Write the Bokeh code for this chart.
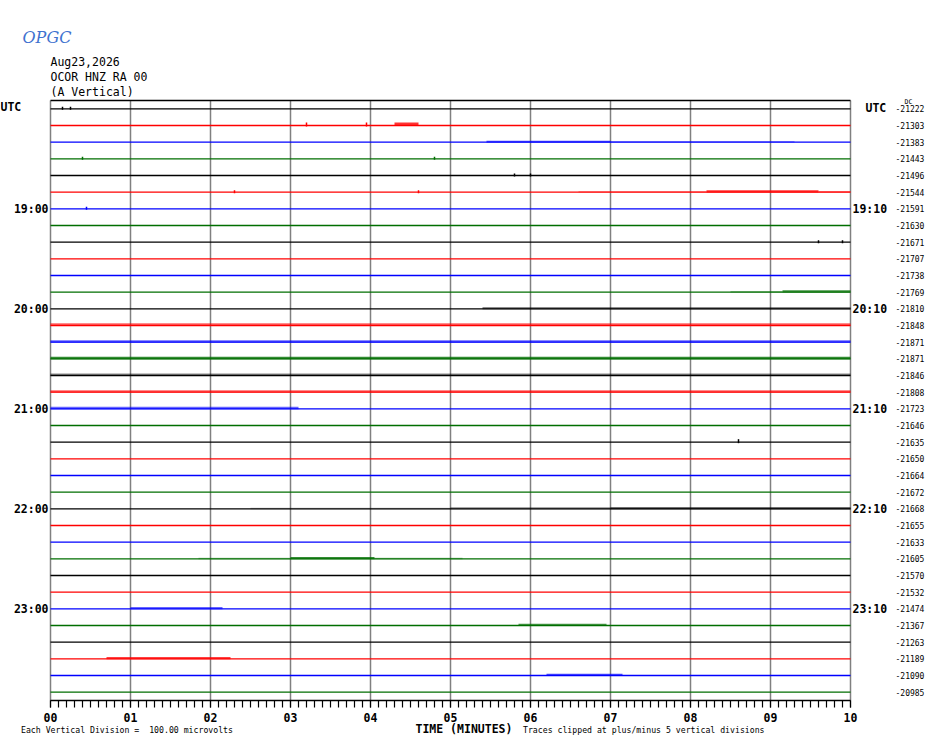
import numpy as np
from bokeh.plotting import figure
from bokeh.models import ColumnDataSource, FixedTicker, LinearAxis, Label, Range1d
from bokeh.embed import file_html
from bokeh.resources import INLINE

# header texts
LOGO_TEXT = "OPGC"
DATE_TEXT = "Aug23,2026"
STATION_TEXT = "OCOR HNZ RA 00"
COMPONENT_TEXT = "(A Vertical)"

# x axis: minutes within each 10 minute row
MINUTE_LABELS = ["00", "01", "02", "03", "04", "05", "06", "07", "08", "09", "10"]
X_TITLE = "TIME (MINUTES)"
SCALE_NOTE = "Each Vertical Division =\u00a0 100.00 microvolts"
CLIP_NOTE = "Traces clipped at plus/minus 5 vertical divisions"

# 36 rows of 10 minutes, 18:00 .. 23:50 UTC
N_ROWS = 36
LABELED_ROWS = [6, 12, 18, 24, 30]
LEFT_TIME_LABELS = ["19:00", "20:00", "21:00", "22:00", "23:00"]
RIGHT_TIME_LABELS = ["19:10", "20:10", "21:10", "22:10", "23:10"]

# DC offset printed at the right of each row
DC_OFFSETS = [-21222, -21303, -21383, -21443, -21496, -21544, -21591, -21630, -21671,
              -21707, -21738, -21769, -21810, -21848, -21871, -21871, -21846, -21808,
              -21723, -21646, -21635, -21650, -21664, -21672, -21668, -21655, -21633,
              -21605, -21570, -21532, -21474, -21367, -21263, -21189, -21090, -20985]

# noisy stretches of trace: row, start minute, end minute, amplitude (px), density
BURST_ROW = [1, 2, 2, 5, 5, 5, 11, 11, 12, 13, 14, 15, 16, 17, 18,
             24, 24, 24, 27, 27, 27, 30, 31, 33, 34]
BURST_START = [4.30, 5.45, 7.00, 6.60, 8.20, 9.60, 8.50, 9.15, 5.40, 0.00, 0.00, 0.00, 0.00, 0.00, 0.00,
               2.50, 5.00, 7.00, 1.85, 3.00, 4.05, 1.00, 5.85, 0.70, 6.20]
BURST_END = [4.60, 7.00, 9.30, 8.20, 9.60, 10.00, 9.15, 10.00, 10.00, 10.00, 10.00, 10.00, 10.00, 10.00, 3.10,
             5.00, 7.00, 10.00, 3.00, 4.05, 5.15, 2.15, 6.95, 2.25, 7.15]
BURST_AMP = [3.0, 1.5, 1.2, 1.2, 1.8, 1.2, 1.2, 1.8, 1.5, 2.2, 2.0, 2.2, 2.0, 2.0, 2.0,
             1.0, 1.5, 1.5, 1.2, 1.8, 1.2, 1.8, 1.8, 1.8, 1.8]
BURST_DENSITY = [0.8, 0.7, 0.35, 0.3, 0.8, 0.45, 0.35, 0.75, 0.6, 0.6, 0.6, 0.8, 0.45, 0.6, 0.6,
                 0.25, 0.45, 0.75, 0.35, 0.8, 0.4, 0.6, 0.7, 0.75, 0.7]

# isolated spikes: row, minute, amplitude (px)
SPIKE_ROW = [0, 0, 1, 1, 3, 3, 4, 4, 5, 5, 6, 8, 8, 20]
SPIKE_MIN = [0.15, 0.25, 3.20, 3.95, 0.40, 4.80, 5.80, 6.00, 2.30, 4.60, 0.45, 9.60, 9.90, 8.60]
SPIKE_AMP = [2, 2, 3, 3, 2, 2, 2, 2, 2, 2, 2, 2, 2, 3]

TRACE_COLORS = ["#000000", "#ff0000", "#0000ff", "#006e00"]
GRID_COLOR = "#808080"
MONO = "DejaVu Sans Mono"

# page geometry: trace area spans x 50..850, y 100..700 on a 930x744 canvas
W, H = 930, 744
LEFT, RIGHT, TOP, BOTTOM = 50, 850, 100, 700
PX_PER_MIN = (RIGHT - LEFT) / 10.0
PX_PER_ROW = (BOTTOM - TOP) / N_ROWS
ROW_TOP, ROW_BOTTOM = 0.5, -N_ROWS + 0.5


def dx(px):
    return (px - LEFT) / PX_PER_MIN


def dy(py):
    return ROW_TOP - (py - TOP) / PX_PER_ROW


p = figure(width=W, height=H, x_range=Range1d(dx(0), dx(W)), y_range=Range1d(dy(H), dy(0)),
           x_axis_type=None, y_axis_type=None, min_border=0,
           output_backend="svg", toolbar_location=None, tools="")
p.outline_line_color = None

# minute grid lines and borders of the trace area
p.segment(x0=list(range(11)), y0=ROW_BOTTOM, x1=list(range(11)), y1=ROW_TOP,
          line_color=GRID_COLOR, line_width=1.5)
p.segment(x0=0, y0=ROW_TOP, x1=10, y1=ROW_TOP, line_color="black", line_width=1.5)

# bottom axis: minutes
xa = LinearAxis(fixed_location=ROW_BOTTOM, bounds=(0, 10),
                ticker=FixedTicker(ticks=list(range(11)),
                                   minor_ticks=[round(t, 1) for t in np.arange(0, 10.05, 0.1)]))
xa.major_label_overrides = {i: lab for i, lab in enumerate(MINUTE_LABELS)}
xa.axis_line_color = "black"
xa.axis_line_width = 1.3
xa.major_tick_in = 0
xa.major_tick_out = 7
xa.minor_tick_in = 0
xa.minor_tick_out = 7
xa.major_tick_line_width = 1.2
xa.minor_tick_line_width = 1.2
xa.major_tick_line_color = "black"
xa.minor_tick_line_color = "black"
xa.major_label_text_font = MONO
xa.major_label_text_font_style = "bold"
xa.major_label_text_font_size = "11.5px"
xa.major_label_text_color = "black"
xa.major_label_standoff = 5
p.add_layout(xa, "below")


def label_axis(loc, ticks, overrides, size, bold, standoff):
    ax = LinearAxis(fixed_location=loc, ticker=FixedTicker(ticks=ticks))
    ax.major_label_overrides = overrides
    ax.axis_line_color = None
    ax.major_tick_line_color = None
    ax.minor_tick_line_color = None
    ax.major_tick_in = 0
    ax.major_tick_out = 0
    ax.minor_tick_in = 0
    ax.minor_tick_out = 0
    ax.major_label_text_font = MONO
    ax.major_label_text_font_style = "bold" if bold else "normal"
    ax.major_label_text_font_size = size
    ax.major_label_text_color = "black"
    ax.major_label_standoff = standoff
    return ax


hour_ticks = [-r for r in LABELED_ROWS]
p.add_layout(label_axis(0, hour_ticks, dict(zip(hour_ticks, LEFT_TIME_LABELS)), "11.5px", True, 2), "left")
p.add_layout(label_axis(10, hour_ticks, dict(zip(hour_ticks, RIGHT_TIME_LABELS)), "11.5px", True, 2), "right")
row_ticks = [-r for r in range(N_ROWS)]
p.add_layout(label_axis(dx(895), row_ticks, {t: str(v) for t, v in zip(row_ticks, DC_OFFSETS)},
                        "8px", False, 0), "right")

# baselines of every row
rows = np.arange(N_ROWS)
base = ColumnDataSource(dict(
    x0=[0] * N_ROWS, x1=[10] * N_ROWS, y=[-r for r in rows],
    color=[TRACE_COLORS[r % 4] for r in rows],
))
p.segment(x0="x0", y0="y", x1="x1", y1="y", line_color="color", line_width=1.3, source=base)

# noisy stretches drawn as thin bands on the trace
bursts = ColumnDataSource(dict(
    left=BURST_START, right=BURST_END,
    bottom=[-r - 0.4 / PX_PER_ROW for r in BURST_ROW],
    top=[-r + a / PX_PER_ROW for r, a in zip(BURST_ROW, BURST_AMP)],
    color=[TRACE_COLORS[r % 4] for r in BURST_ROW],
    alpha=BURST_DENSITY,
))
p.quad(left="left", right="right", bottom="bottom", top="top", fill_color="color",
       fill_alpha="alpha", line_color=None, source=bursts)

spikes = ColumnDataSource(dict(
    x=SPIKE_MIN,
    y0=[-r - 1 / PX_PER_ROW for r in SPIKE_ROW],
    y1=[-r + a / PX_PER_ROW for r, a in zip(SPIKE_ROW, SPIKE_AMP)],
    color=[TRACE_COLORS[r % 4] for r in SPIKE_ROW],
))
p.segment(x0="x", y0="y0", x1="x", y1="y1", line_color="color", line_width=1.5, source=spikes)


def add_text(px, py, text, size, bold=False, color="black", font=MONO, style=None):
    # px, py: page pixels of the text's left end and baseline
    p.add_layout(Label(x=dx(px), y=dy(py), text=text, text_font=font, text_font_size=size,
                       text_font_style=style or ("bold" if bold else "normal"),
                       text_color=color, text_baseline="alphabetic", text_align="left"))


add_text(22, 37, LOGO_TEXT, "16px", color="#3f72cf", font="DejaVu Serif", style="italic")
add_text(50, 61.5, DATE_TEXT, "11.5px")
add_text(50, 76.5, STATION_TEXT, "11.5px")
add_text(50, 91.5, COMPONENT_TEXT, "11.5px")
add_text(0, 106.5, "UTC", "11.5px", bold=True)
add_text(865, 107.5, "UTC", "11.5px", bold=True)
add_text(904, 101.5, "DC", "6.5px")
add_text(20.5, 729, SCALE_NOTE, "8.2px")
add_text(415, 728, X_TITLE, "11.5px", bold=True)
add_text(522.5, 729, CLIP_NOTE, "8.2px")

open("out.html", "w").write(file_html(p, INLINE))
